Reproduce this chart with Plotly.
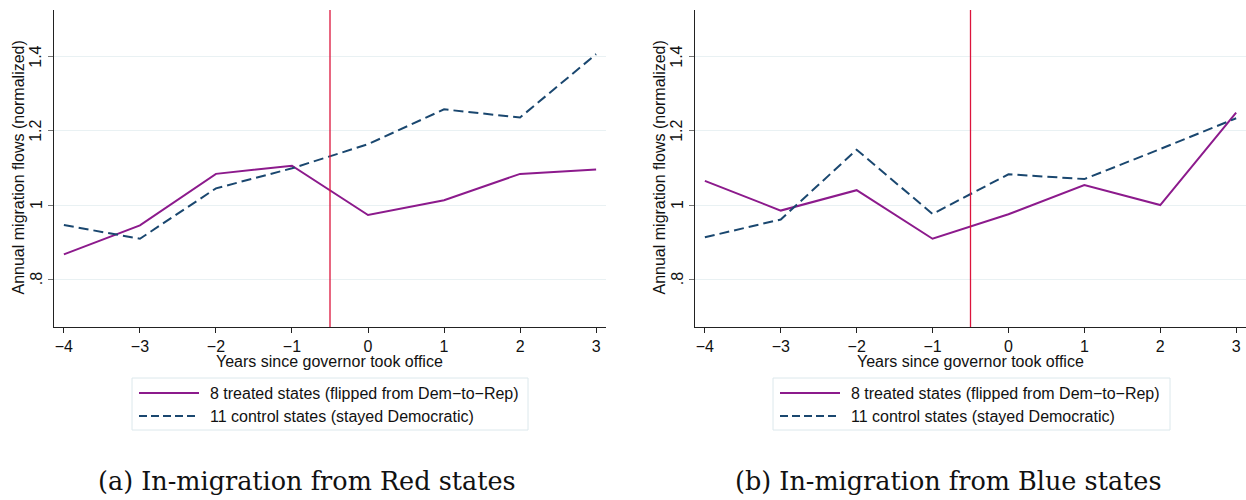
import plotly.graph_objects as go

# ---- data ----
years = [-4, -3, -2, -1, 0, 1, 2, 3]
red_treated = [0.867, 0.945, 1.084, 1.106, 0.973, 1.013, 1.084, 1.096]
red_control = [0.946, 0.909, 1.045, 1.099, 1.164, 1.258, 1.236, 1.407]
blue_treated = [1.065, 0.985, 1.040, 0.909, 0.975, 1.054, 1.000, 1.249]
blue_control = [0.913, 0.961, 1.149, 0.976, 1.083, 1.070, 1.151, 1.234]
treatment_x = -0.5
y_tickvals = [0.8, 1.0, 1.2, 1.4]
y_ticktext = [".8", "1", "1.2", "1.4"]
x_tickvals = [-4, -3, -2, -1, 0, 1, 2, 3]
legend_labels = ["8 treated states (flipped from Dem\u2212to\u2212Rep)",
                 "11 control states (stayed Democratic)"]
captions = ["(a) In-migration from Red states", "(b) In-migration from Blue states"]
x_title = "Years since governor took office"
y_title = "Annual migration flows (normalized)"

# ---- style ----
W, H = 1246, 500
PURPLE = "#8c1a8c"
NAVY = "#1a476f"
RED = "#dc143c"
GRID = "#e9f1f3"
FONT = "Liberation Sans"
FS = 16

def px(x):
    return x / W

def py(y):
    return 1 - y / H

fig = go.Figure()

panels = [
    dict(t=red_treated, c=red_control, xa="x", ya="y", dom=(54, 606)),
    dict(t=blue_treated, c=blue_control, xa="x2", ya="y2", dom=(695, 1246)),
]

shapes = []
annotations = []
for i, p in enumerate(panels):
    fig.add_trace(go.Scatter(x=years, y=p["t"], mode="lines", xaxis=p["xa"], yaxis=p["ya"],
                             line=dict(color=PURPLE, width=2), showlegend=False,
                             name=legend_labels[0]))
    fig.add_trace(go.Scatter(x=years, y=p["c"], mode="lines", xaxis=p["xa"], yaxis=p["ya"],
                             line=dict(color=NAVY, width=2, dash="10px,5px"), showlegend=False,
                             name=legend_labels[1]))
    shapes.append(dict(type="line", xref=p["xa"], yref=p["ya"] + " domain",
                       x0=treatment_x, x1=treatment_x, y0=0, y1=1,
                       line=dict(color=RED, width=1.3), layer="above"))
    suffix = "" if i == 0 else "2"
    fig.layout["xaxis" + suffix] = dict(
        domain=[px(p["dom"][0]), px(p["dom"][1])], range=[-4.13, 3.13],
        anchor=p["ya"], tickvals=x_tickvals, ticks="outside", ticklen=5,
        tickcolor="#222", tickwidth=1, showline=True, linecolor="#222", linewidth=1.3,
        showgrid=False, zeroline=False,
        tickfont=dict(family=FONT, size=FS, color="#111"),
    )
    fig.layout["yaxis" + suffix] = dict(
        domain=[py(327), py(10)], range=[0.671, 1.526], anchor=p["xa"],
        tickvals=y_tickvals, ticks="outside", ticklen=5, tickcolor="#777", tickwidth=1,
        showticklabels=False,
        showline=True, linecolor="#222", linewidth=1.3,
        showgrid=True, gridcolor=GRID, gridwidth=1, zeroline=False,
    )
    d0, d1 = p["dom"]
    # rotated y tick labels, placed on the axis scale
    for v, t in zip(y_tickvals, y_ticktext):
        annotations.append(dict(x=px(d0 - 18), y=v, xref="paper", yref=p["ya"],
                                text=t, showarrow=False, textangle=-90,
                                xanchor="center", yanchor="middle",
                                font=dict(family=FONT, size=FS, color="#111")))
    # axis titles
    annotations.append(dict(x=px((d0 + d1) / 2), y=py(361), xref="paper", yref="paper",
                            text=x_title, showarrow=False, xanchor="center", yanchor="middle",
                            font=dict(family=FONT, size=FS, color="#111")))
    annotations.append(dict(x=px(d0 - 36.5), y=py(168), xref="paper", yref="paper",
                            text=y_title, showarrow=False, textangle=-90,
                            xanchor="center", yanchor="middle",
                            font=dict(family=FONT, size=FS, color="#111")))

    # manual legend
    lx0, lx1 = (132, 528) if i == 0 else (773, 1170)
    shapes.append(dict(type="rect", xref="paper", yref="paper",
                       x0=px(lx0), x1=px(lx1), y0=py(430), y1=py(378),
                       line=dict(color="#dce8ec", width=1), fillcolor="rgba(0,0,0,0)"))
    s0 = lx0 + 7
    s1 = s0 + 60
    for row, (yy, col, dash) in enumerate([(393, PURPLE, "solid"), (416, NAVY, "8px,4px")]):
        shapes.append(dict(type="line", xref="paper", yref="paper",
                           x0=px(s0), x1=px(s1), y0=py(yy), y1=py(yy),
                           line=dict(color=col, width=2, dash=dash)))
        annotations.append(dict(x=px(s1 + 9), y=py(yy), xref="paper", yref="paper",
                                text=legend_labels[row], showarrow=False,
                                xanchor="left", yanchor="middle",
                                font=dict(family=FONT, size=FS, color="#111")))
    cx = 307 if i == 0 else 948
    annotations.append(dict(x=px(cx), y=py(481), xref="paper", yref="paper",
                            text=captions[i], showarrow=False,
                            xanchor="center", yanchor="middle",
                            font=dict(family="DejaVu Serif", size=25.5, color="#111")))

fig.update_layout(
    width=W, height=H, margin=dict(l=0, r=0, t=0, b=0),
    paper_bgcolor="white", plot_bgcolor="white",
    shapes=shapes, annotations=annotations, showlegend=False,
)

fig.write_html("out.html", config={"displayModeBar": False},
               post_script="document.body.style.margin='0';")
